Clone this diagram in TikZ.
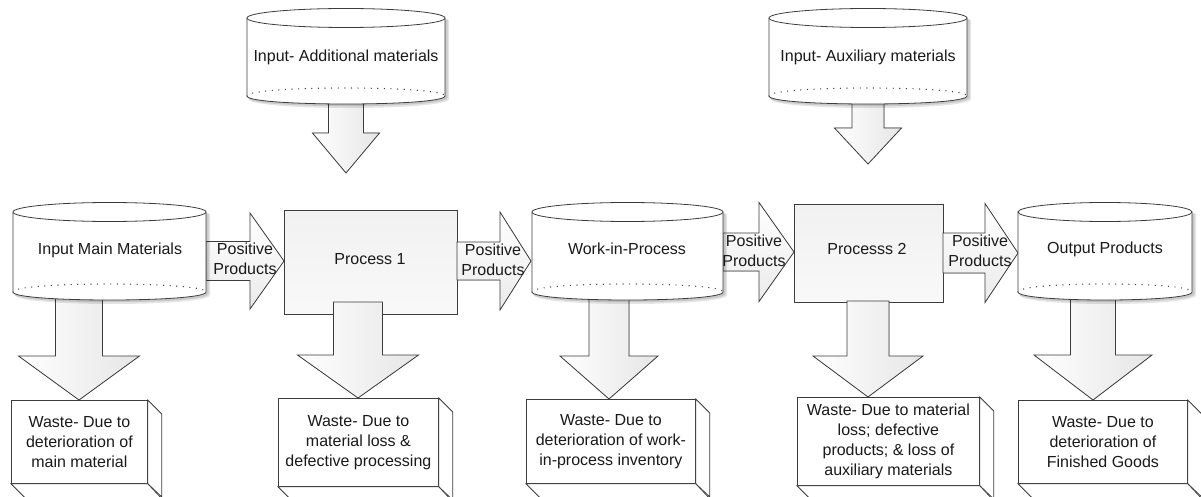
\documentclass[tikz,border=0pt]{standalone}
\usepackage{fontspec}
\setmainfont{Liberation Sans}
\definecolor{edge}{HTML}{3C3C3C}
\definecolor{ink}{HTML}{1A1A1A}

% right-pointing block arrow: start x, head x, tip x, centre y, shaft half, head half
\newcommand\rightblock[6]{%
  \filldraw[blockR] (#1,#4-#5) -- (#2,#4-#5) -- (#2,#4-#6) -- (#3,#4)
    -- (#2,#4+#6) -- (#2,#4+#5) -- (#1,#4+#5) -- cycle;}
% down-pointing block arrow: centre x, start y, head y, tip y, shaft half, head half
\newcommand\downblock[6]{%
  \filldraw[blockD] (#1-#5,#2) -- (#1-#5,#3) -- (#1-#6,#3) -- (#1,#4)
    -- (#1+#6,#3) -- (#1+#5,#3) -- (#1+#5,#2) -- cycle;}
% storage drum: left x, right x, top ellipse centre y, bottom centre y
\newcommand\drum[4]{%
  \fill[black,opacity=.10] (#1+2,#3+2) -- (#1+2,#4+3)
    .. controls (#1+2,#4+15) and (#2+4,#4+15) .. (#2+4,#4+3) -- (#2+4,#3+2) -- cycle;
  \fill[black,opacity=.12] (#1+1,#3+1) -- (#1+1,#4+2)
    .. controls (#1+1,#4+13) and (#2+2.5,#4+13) .. (#2+2.5,#4+2) -- (#2+2.5,#3+1) -- cycle;
  \fill[white] (#1,#3) -- (#1,#4) .. controls (#1,#4+10.67) and (#2,#4+10.67) .. (#2,#4)
    -- (#2,#3) -- cycle;
  \draw[outline] (#1,#3) -- (#1,#4) .. controls (#1,#4+10.67) and (#2,#4+10.67) .. (#2,#4)
    -- (#2,#3);
  \draw[draw=edge,line width=1.4pt,line cap=round,dash pattern=on 0pt off 6.6pt]
    (#1,#4) .. controls (#1,#4-10.67) and (#2,#4-10.67) .. (#2,#4);
  \filldraw[outline,fill=white] ({(#1+#2)/2},#3) ellipse [x radius={(#2-#1)/2}, y radius=9.5];}
% waste box with depth faces on the right and bottom
\newcommand\wastebox[6]{% name, left, top, width, height, text
  \node[wastefront, minimum width=#4pt, minimum height=#5pt, anchor=north west]
    (#1) at (#2,#3) {#6};
  \filldraw[outline,fill=white] (#1.north east) -- ++(14,14) -- ++(0,#5) -- (#1.south east) -- cycle;
  \filldraw[outline,fill=white] (#1.south west) -- ++(14,14) -- ++(#4,0) -- (#1.south east) -- cycle;}

\begin{document}
\begin{tikzpicture}[x=1pt,y=-1pt,
  outline/.style={draw=edge,line width=0.8pt},
  txt/.style={text=ink,font=\fontsize{16}{20}\selectfont,align=center,inner sep=0pt},
  blockR/.style={outline,top color=white,bottom color=gray!16},
  blockD/.style={outline,left color=white,right color=gray!20},
  procbox/.style={outline,top color=gray!11,bottom color=gray!5,txt},
  wastefront/.style={outline,fill=white,txt}]
\useasboundingbox (0,0) rectangle (1201,497);
\clip (0,0) rectangle (1201,497);

% process steps
\node[procbox, minimum width=173pt, minimum height=104pt, anchor=north west]
  (proc1) at (284,210) {};
\node[procbox, minimum width=149pt, minimum height=98pt, anchor=north west]
  (proc2) at (794,204) {};

% waste outcomes
\wastebox{waste1}{11}{400}{136}{83}{Waste- Due to\\deterioration of\\main material}
\wastebox{waste2}{278}{398}{160}{88}{Waste- Due to\\material loss \&\\defective processing}
\wastebox{waste3}{526}{399}{169}{84}{Waste- Due to\\deterioration of work-\\in-process inventory}
\wastebox{waste4}{797}{397}{182}{88}{Waste- Due to material\\loss; defective\\products; \& loss of\\auxiliary materials}
\wastebox{waste5}{1018}{400}{169}{83}{Waste- Due to\\deterioration of\\Finished Goods}

% flow of positive products
\rightblock{206}{250}{284}{261}{19.5}{48}
\rightblock{457}{500}{531}{261}{19}{49}
\rightblock{723}{759}{794}{252}{19}{49.5}
\rightblock{943}{985}{1018}{253}{20}{49.5}

% inputs and waste streams
\downblock{346}{100}{133}{173}{17.5}{33.5}
\downblock{868}{100}{128}{164}{16}{33.5}
\downblock{79}{296}{356}{400}{23.5}{60.5}
\downblock{358}{302}{355}{398}{24.5}{60.5}
\downblock{609}{296}{356}{399}{20}{49}
\downblock{868}{301}{356}{397}{21}{55}
\downblock{1093}{296}{355}{400}{22.5}{59}

% storage drums
\drum{13}{206}{212}{292}
\drum{247}{445}{18}{96}
\drum{532}{723}{212}{292}
\drum{769}{967}{18}{96}
\drum{1018}{1192}{212}{292}

% labels
\node[txt] (cylMain) at (110,250) {Input Main Materials};
\node[txt] (cylAdd) at (346,57) {Input- Additional materials};
\node[txt] (cylWip) at (627,249) {Work-in-Process};
\node[txt] (cylAux) at (868,57) {Input- Auxiliary materials};
\node[txt] (cylOut) at (1105,249) {Output Products};
\node[txt] (proc1label) at (370,259) {Process 1};
\node[txt] (proc2label) at (867,249) {Processs 2};
\node[txt] (pos1) at (245,259) {Positive\\Products};
\node[txt] (pos2) at (493,260) {Positive\\Products};
\node[txt] (pos3) at (754,251) {Positive\\Products};
\node[txt] (pos4) at (980,251) {Positive\\Products};
\end{tikzpicture}
\end{document}
